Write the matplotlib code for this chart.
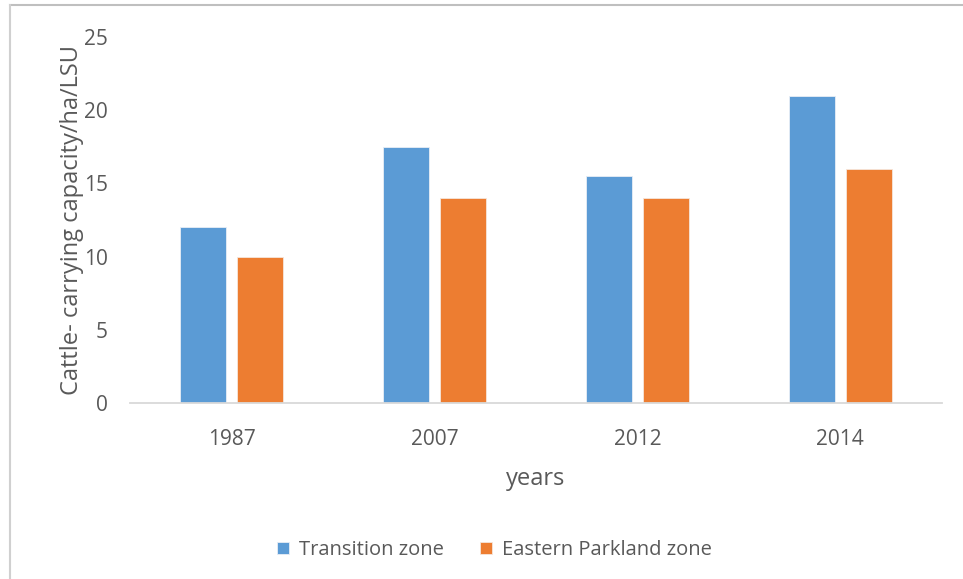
import matplotlib.pyplot as plt
import numpy as np
from matplotlib.lines import Line2D

years = ['1987', '2007', '2012', '2014']
transition = [12, 17.5, 15.5, 21]
parkland = [10, 14, 14, 16]

blue = '#5B9BD5'
orange = '#ED7D31'
txt = '#595959'

plt.rcParams['font.family'] = ['Open Sans', 'DejaVu Sans']

fig = plt.figure(figsize=(9.63, 5.79), dpi=100)
ax = fig.add_axes([0.135, 0.304, 0.843, 0.632])

x = np.arange(len(years))
w = 0.227
off = 0.14
ax.bar(x - off, transition, w, color=blue, edgecolor='#e8eef6', linewidth=0.6,
       label='Transition zone')
ax.bar(x + off, parkland, w, color=orange, edgecolor='#f6e6dc', linewidth=0.6,
       label='Eastern Parkland zone')

ax.set_xlim(-0.5, 3.5)
ax.set_ylim(0, 25)
ax.set_yticks([0, 5, 10, 15, 20, 25])
ax.set_xticks(x)
ax.set_xticklabels(years)
ax.tick_params(axis='both', length=0, labelsize=15, colors=txt)
ax.tick_params(axis='x', pad=19)
ax.tick_params(axis='y', pad=16)
for s in ['top', 'right', 'left']:
    ax.spines[s].set_visible(False)
ax.spines['bottom'].set_color('#d9d9d9')
ax.spines['bottom'].set_linewidth(1.3)

ax.set_xlabel('years', fontsize=17, color=txt, labelpad=12)
ax.set_ylabel('Cattle- carrying capacity/ha/LSU', fontsize=17, color=txt)
ax.yaxis.set_label_coords(-0.057, 0.5)

ax.legend(loc='upper center', bbox_to_anchor=(0.449, -0.325), ncol=2, frameon=False,
          fontsize=14.5, labelcolor=txt, handlelength=0.6, handleheight=0.6,
          columnspacing=1.8, handletextpad=0.5)

# outer frame (top and left edge only)
fig.add_artist(Line2D([10 / 963, 1], [1 - 5 / 579, 1 - 5 / 579], color='#bfbfbf', lw=1.5))
fig.add_artist(Line2D([10 / 963, 10 / 963], [0, 1 - 5 / 579], color='#d0d0d0', lw=1.5))

fig.savefig('out.png', dpi=100)
